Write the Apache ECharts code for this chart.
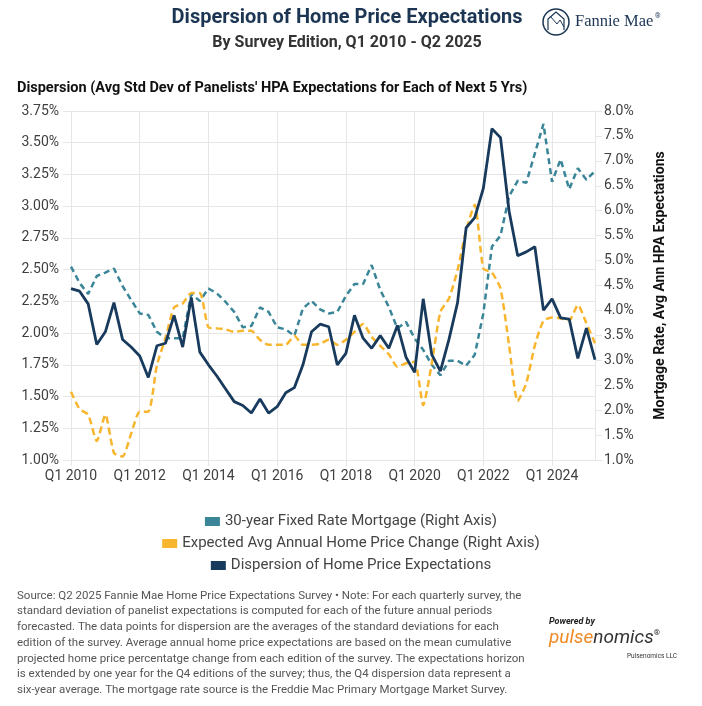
<!DOCTYPE html>
<html lang="en">
<head>
    <meta charset="UTF-8">
    <title>Dispersion of Home Price Expectations</title>
    <script src="https://cdn.jsdelivr.net/npm/echarts@6/dist/echarts.min.js"></script>
    <style>
        html, body { margin: 0; padding: 0; background: #fff; }
        #main { width: 702px; height: 706px; }
    </style>
</head>
<body>
    <div id="main"></div>
    <script>
        // quarters Q1 2010 .. Q2 2025
        var quarters = [];
        for (var y = 2010; y <= 2025; y++) {
            for (var q = 1; q <= 4; q++) {
                if (y === 2025 && q > 2) break;
                quarters.push('Q' + q + ' ' + y);
            }
        }

        // dispersion (left axis, %)
        var dispersion = [
            2.35, 2.33, 2.23, 1.91, 2.01, 2.24, 1.95, 1.89, 1.82, 1.65,
            1.90, 1.92, 2.14, 1.89, 2.28, 1.85, 1.75, 1.66, 1.56, 1.46,
            1.43, 1.37, 1.48, 1.37, 1.42, 1.53, 1.57, 1.75, 2.01, 2.07,
            2.05, 1.75, 1.84, 2.14, 1.96, 1.88, 1.98, 1.88, 2.06, 1.81,
            1.69, 2.27, 1.83, 1.70, 1.95, 2.24, 2.83, 2.91, 3.14, 3.61,
            3.54, 2.96, 2.61, 2.64, 2.68, 2.18, 2.27, 2.12, 2.11, 1.80,
            2.04, 1.79
        ];

        // 30-year fixed mortgage rate (right axis, %)
        var mortgage = [
            4.88, 4.55, 4.33, 4.69, 4.76, 4.84, 4.49, 4.21, 3.94, 3.91,
            3.57, 3.44, 3.44, 3.44, 4.33, 4.19, 4.44, 4.34, 4.17, 3.97,
            3.66, 3.69, 4.06, 3.97, 3.66, 3.62, 3.49, 4.04, 4.19, 4.02,
            3.94, 3.97, 4.29, 4.53, 4.53, 4.91, 4.41, 4.07, 3.64, 3.77,
            3.44, 3.21, 2.91, 2.70, 2.99, 2.99, 2.89, 3.11, 3.94, 5.28,
            5.50, 6.29, 6.60, 6.56, 7.15, 7.74, 6.58, 7.03, 6.43, 6.85,
            6.62, 6.80
        ];

        // expected avg annual home price change (right axis, %)
        var hpa = [
            2.37, 2.02, 1.91, 1.38, 1.91, 1.14, 1.07, 1.53, 1.97, 1.97,
            2.90, 3.45, 4.06, 4.14, 4.35, 4.35, 3.66, 3.64, 3.62, 3.57,
            3.59, 3.59, 3.41, 3.31, 3.31, 3.31, 3.49, 3.31, 3.31, 3.33,
            3.41, 3.31, 3.41, 3.57, 3.73, 3.47, 3.29, 3.12, 2.87, 2.94,
            2.97, 2.10, 2.94, 3.97, 4.24, 4.81, 5.61, 6.12, 4.84, 4.76,
            4.44, 3.30, 2.18, 2.54, 3.30, 3.79, 3.86, 3.84, 3.80, 4.11,
            3.74, 3.34
        ];

        var seriesNames = [
            '30-year Fixed Rate Mortgage (Right Axis)',
            'Expected Avg Annual Home Price Change (Right Axis)',
            'Dispersion of Home Price Expectations'
        ];

        var footnote = [
            'Source: Q2 2025 Fannie Mae Home Price Expectations Survey \u2022 Note: For each quarterly survey, the',
            'standard deviation of panelist expectations is computed for each of the future annual periods',
            'forecasted. The data points for dispersion are the averages of the standard deviations for each',
            'edition of the survey. Average annual home price expectations are based on the mean cumulative',
            'projected home price percentatge change from each edition of the survey. The expectations horizon',
            'is extended by one year for the Q4 editions of the survey; thus, the Q4 dispersion data represent a',
            'six-year average. The mortgage rate source is the Freddie Mac Primary Mortgage Market Survey.'
        ];

        var NAVY = '#183a5c';
        var TEAL = '#3a8597';
        var GOLD = '#f8b52e';
        var GRID = '#e6e6e6';
        var FONT = 'Roboto, "Noto Sans", sans-serif';

        var chart = echarts.init(document.getElementById('main'));

        var legendStyle = { fontSize: 15, color: '#444', fontFamily: FONT };
        function legendFor(name, top) {
            return {
                data: [name], top: top, left: 'center', icon: 'rect',
                itemWidth: 15, itemHeight: 9, itemGap: 4, padding: 0,
                textStyle: legendStyle, selectedMode: false
            };
        }

        var option = {
            animation: false,
            textStyle: { fontFamily: FONT },
            grid: { left: 71, right: 107, top: 111, bottom: 246, containLabel: false },
            legend: [
                legendFor(seriesNames[0], 514),
                legendFor(seriesNames[1], 536),
                legendFor(seriesNames[2], 558)
            ],
            xAxis: {
                type: 'category',
                data: quarters,
                boundaryGap: false,
                axisLine: { lineStyle: { color: GRID } },
                axisTick: { show: true, interval: 7, length: 6, lineStyle: { color: GRID } },
                splitLine: { show: true, interval: 7, lineStyle: { color: GRID } },
                axisLabel: { interval: 7, color: '#404040', fontSize: 14, margin: 9 }
            },
            yAxis: [{
                type: 'value', min: 1, max: 3.75, interval: 0.25,
                axisLine: { show: false },
                axisTick: { show: true, length: 8, lineStyle: { color: GRID } },
                splitLine: { lineStyle: { color: GRID } },
                axisLabel: {
                    color: '#404040', fontSize: 14, margin: 12,
                    formatter: function (v) { return v.toFixed(2) + '%'; }
                }
            }, {
                type: 'value', min: 1, max: 8, interval: 0.5, position: 'right',
                axisLine: { show: true, lineStyle: { color: GRID } },
                axisTick: { show: true, length: 7, lineStyle: { color: GRID } },
                splitLine: { show: false },
                axisLabel: {
                    color: '#404040', fontSize: 14, margin: 9,
                    formatter: function (v) { return v.toFixed(1) + '%'; }
                },
                name: 'Mortgage Rate, Avg Ann HPA Expectations',
                nameLocation: 'middle',
                nameRotate: 90,
                nameGap: 58,
                nameTextStyle: { fontWeight: 'bold', fontSize: 14, color: '#111' }
            }],
            series: [{
                name: seriesNames[0], type: 'line', yAxisIndex: 1, data: mortgage,
                symbol: 'none', color: TEAL,
                lineStyle: { color: TEAL, width: 2.5, type: [6, 4] }
            }, {
                name: seriesNames[1], type: 'line', yAxisIndex: 1, data: hpa,
                symbol: 'none', color: GOLD, smooth: 0.2,
                lineStyle: { color: GOLD, width: 2.5, type: [7, 4] }
            }, {
                name: seriesNames[2], type: 'line', yAxisIndex: 0, data: dispersion,
                symbol: 'none', color: NAVY,
                lineStyle: { color: NAVY, width: 2.8 }
            }],
            graphic: [
                { type: 'text', x: 347, y: 18, style: {
                    text: 'Dispersion of Home Price Expectations', fill: '#1b3553',
                    align: 'center', verticalAlign: 'middle',
                    font: 'bold 20px ' + FONT } },
                { type: 'text', x: 347, y: 43, style: {
                    text: 'By Survey Edition, Q1 2010 - Q2 2025', fill: '#333',
                    align: 'center', verticalAlign: 'middle',
                    font: 'bold 16px ' + FONT } },
                { type: 'text', x: 17, y: 88, style: {
                    text: "Dispersion (Avg Std Dev of Panelists' HPA Expectations for Each of Next 5 Yrs)",
                    verticalAlign: 'middle',
                    fill: '#111', font: 'bold 14.5px ' + FONT } },
                // Fannie Mae mark
                { type: 'circle', shape: { cx: 556, cy: 22, r: 13 },
                  style: { fill: 'none', stroke: '#1b3553', lineWidth: 1.5 } },
                { type: 'polyline', shape: { points: [[548, 30], [548, 19], [556, 12], [564, 19], [564, 30]] },
                  style: { fill: 'none', stroke: '#1b3553', lineWidth: 1.2 } },
                { type: 'polyline', shape: { points: [[550, 16], [557, 24], [560, 20], [564, 27]] },
                  style: { fill: 'none', stroke: '#1b3553', lineWidth: 1 } },
                { type: 'text', x: 575, y: 22, style: {
                    text: 'Fannie Mae', fill: '#1b3553', verticalAlign: 'middle',
                    font: '16.5px "Liberation Serif", "DejaVu Serif", serif' } },
                { type: 'text', x: 655, y: 13, style: {
                    text: '\u00ae', fill: '#1b3553', font: '7px ' + FONT } },
                // footnote
                { type: 'text', left: 17, top: 588, style: {
                    text: footnote.join('\n'), fill: '#555', lineHeight: 15.7,
                    font: '11.5px ' + FONT } },
                // pulsenomics mark
                { type: 'text', left: 549, top: 617, style: {
                    text: 'Powered by', fill: '#222', font: 'italic bold 9px ' + FONT } },
                { type: 'text', left: 549, top: 629, style: {
                    text: '{a|pulse}{b|nomics}{c|\u00ae}',
                    rich: {
                        a: { fill: '#f08a24', font: 'italic 19px ' + FONT },
                        b: { fill: '#333', font: 'italic 19px ' + FONT },
                        c: { fill: '#333', font: 'bold 8px ' + FONT, verticalAlign: 'top' }
                    } } },
                { type: 'text', left: 627, top: 653, style: {
                    text: 'Pulsenomics LLC', fill: '#333', font: '6.5px ' + FONT } }
            ]
        };

        chart.setOption(option);

        window.addEventListener('resize', function () {
            chart.resize();
        });
    </script>
</body>
</html>
